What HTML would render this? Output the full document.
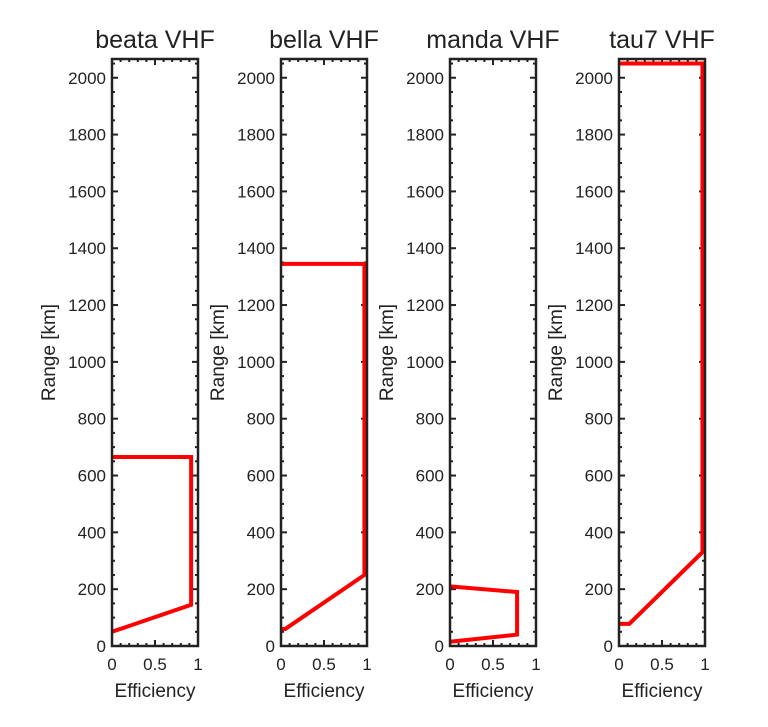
<!DOCTYPE html>
<html><head><meta charset="utf-8"><style>
body{margin:0;background:#fff;}
svg text{font-family:"Liberation Sans",sans-serif;fill:#222;}
</style></head><body>
<svg id="c" width="768" height="722" xmlns="http://www.w3.org/2000/svg"></svg>
<script>
const titles=["beata VHF","bella VHF","manda VHF","tau7 VHF"];
const effBeata=[0,0.92,0.92,0];
const rngBeata=[50,145,665,665];
const effBella=[0,0.05,0.97,0.97,0];
const rngBella=[60,60,250,1345,1345];
const effManda=[0,0.78,0.78,0];
const rngManda=[15,40,190,210];
const effTau7=[0,0.12,0.97,0.97,0];
const rngTau7=[78,78,330,2050,2050];
const yTicks=[0,200,400,600,800,1000,1200,1400,1600,1800,2000];
const xTicks=[0,0.5,1];
const series=[[effBeata,rngBeata],[effBella,rngBella],[effManda,rngManda],[effTau7,rngTau7]];
const NS="http://www.w3.org/2000/svg";
const svgEl=document.getElementById('c');
const lefts=[112,281,450,619], W=86, plotTop=59, plotBot=646, yMax=2066;
function mk(t,a,p){const e=document.createElementNS(NS,t);for(const k in a)e.setAttribute(k,a[k]);(p||svgEl).appendChild(e);return e;}
series.forEach((s,i)=>{
  const L=lefts[i];
  const xs=v=>L+v*W, ys=v=>plotBot-v*(plotBot-plotTop)/yMax;
  const g=mk('g',{});
  
  
  const t=mk('text',{x:L+W/2,y:48,'text-anchor':'middle','font-size':25},g);t.textContent=titles[i];
  
  
  for(let v=0;v<=yMax;v+=50){const y=ys(v);const maj=v%200===0;const l=maj?6:3;
    mk('line',{x1:L,x2:L+l,y1:y,y2:y,stroke:'#222','stroke-width':2},g);
    mk('line',{x1:L+W,x2:L+W-l,y1:y,y2:y,stroke:'#222','stroke-width':2},g);}
  for(let k=0;k<=10;k++){const x=xs(k/10);const l=k%5===0?6:3;
    mk('line',{x1:x,x2:x,y1:plotBot,y2:plotBot-l,stroke:'#222','stroke-width':2},g);
    mk('line',{x1:x,x2:x,y1:plotTop,y2:plotTop+l,stroke:'#222','stroke-width':2},g);}
  yTicks.forEach(v=>{const tt=mk('text',{x:L-6,y:ys(v)+6,'text-anchor':'end','font-size':17},g);tt.textContent=v;
    
    });
  xTicks.forEach(v=>{const tt=mk('text',{x:xs(v),y:plotBot+24,'text-anchor':'middle','font-size':17},g);tt.textContent=v;
    
    });
  const xl=mk('text',{x:L+W/2,y:697,'text-anchor':'middle','font-size':19},g);xl.textContent='Efficiency';
  
  
  const yl=mk('text',{x:0,y:0,'text-anchor':'middle','font-size':19,transform:`translate(${L-57},${(plotTop+plotBot)/2}) rotate(-90)`},g);yl.textContent='Range [km]';
  
  
  const pts=s[0].map((e,j)=>xs(e)+','+ys(s[1][j])).join(' ');
  const pl=mk('polyline',{points:pts,fill:'none',stroke:'#ff0000','stroke-width':4,'stroke-linejoin':'miter'},g);
  
  
  const r=mk('rect',{x:L,y:plotTop,width:W,height:plotBot-plotTop,fill:'none',stroke:'#222','stroke-width':2.5},g);
  
  
});
</script>
</body></html>
